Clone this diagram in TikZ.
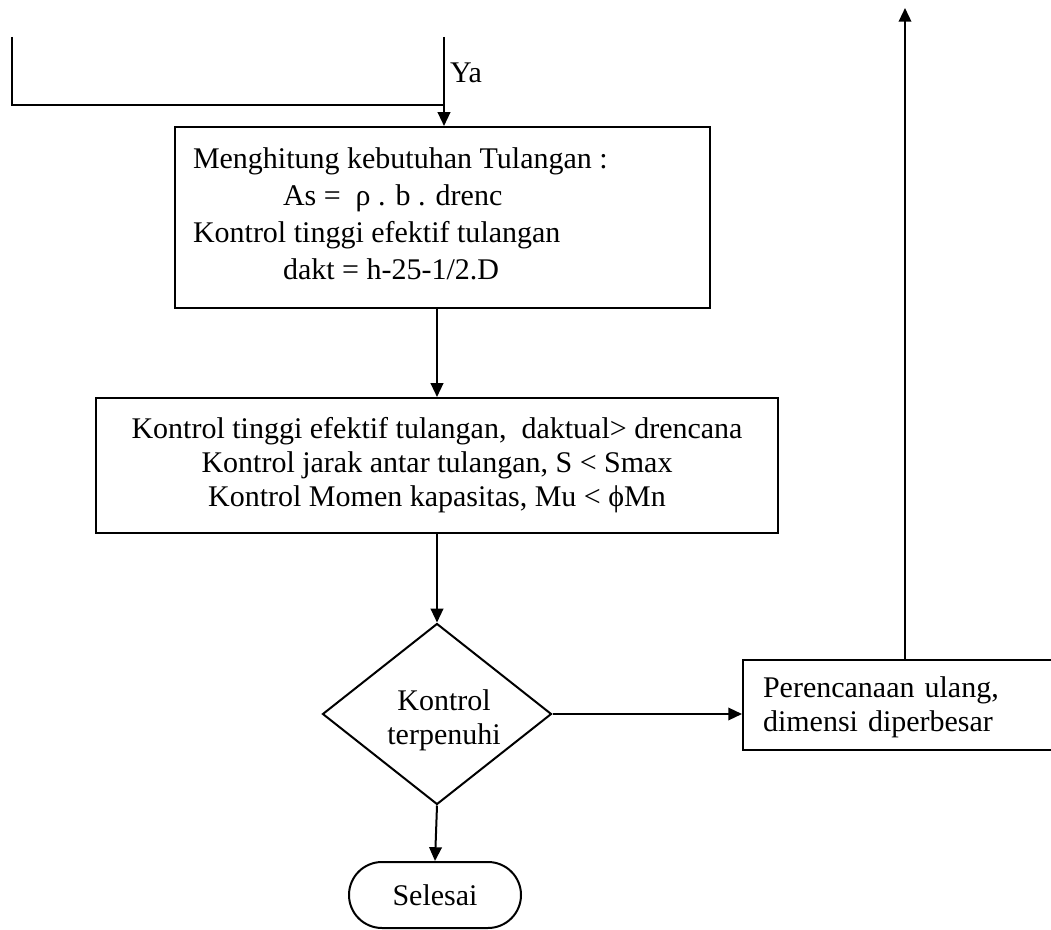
\documentclass[tikz,border=0pt]{standalone}
\usepackage{fontspec}
\setmainfont{Liberation Serif}
\usetikzlibrary{arrows.meta,shapes.geometric,shapes.misc}
\begin{document}
\begin{tikzpicture}[x=0.4pt,y=-0.4pt, line width=0.8pt,
  every node/.style={font=\fontsize{12pt}{13.6pt}\selectfont},
  box/.style={draw, rectangle, inner sep=0pt},
  arr/.style={-{Triangle[length=5.5pt,width=5pt]}}]
\useasboundingbox (0,0) rectangle (1051,930);
\coordinate (c1) at (12,37);
\coordinate (c2) at (12,105);
\coordinate (c3) at (444,105);
\coordinate (c0) at (444,37);
\coordinate (top) at (905,8);
\node[box, minimum width={535*0.4pt}, minimum height={181*0.4pt}] (b1) at (442.5,217.5) {};
\node[align=left, anchor=north west, inner sep=0pt, font=\fontsize{12pt}{14.8pt}\selectfont] (t1) at (192,147) {Menghitung kebutuhan Tulangan :\\\hspace*{36pt}As = \ ρ . b . drenc\\Kontrol tinggi efektif tulangan\\\hspace*{36pt}dakt = h-25-1/2.D};
\node[box, minimum width={682*0.4pt}, minimum height={135*0.4pt}, align=center] (b2) at (437,465.5) {Kontrol tinggi efektif tulangan, \ daktual> drencana\\Kontrol jarak antar tulangan, S < Smax\\Kontrol Momen kapasitas, Mu < ϕMn};
\node[draw, diamond, inner sep=0pt, minimum width={229*0.4pt}, minimum height={181*0.4pt}] (d) at (437,714) {};
\node[align=center, inner sep=0pt] (dt) at (444,720) {Kontrol\\terpenuhi};
\node[box, minimum width={313*0.4pt}, minimum height={90*0.4pt}, text width={273*0.4pt}, inner xsep=8pt, align=left] (b3) at (899.5,705) {\rule{0pt}{10pt}Perencanaan ulang,\\dimensi diperbesar};
\node[draw, rounded rectangle, minimum width={172*0.4pt}, minimum height={66*0.4pt}, inner sep=0pt] (s) at (435,895) {Selesai};
\node[anchor=base west, inner sep=0pt] (ya) at (449,83) {Ya};
\draw (c1) -- (c2) -- (c3);
\draw[arr] (c0) -- (c0 |- b1.north);
\draw[arr] (b1.south -| b2.north) -- (b2.north);
\draw[arr] (b2.south) -- (d.north);
\draw[arr] (d.east) -- (d.east -| b3.west);
\draw[arr] (d.south) -- (s.north);
\draw[arr] (b3.north -| top) -- (top);
\end{tikzpicture}
\end{document}
